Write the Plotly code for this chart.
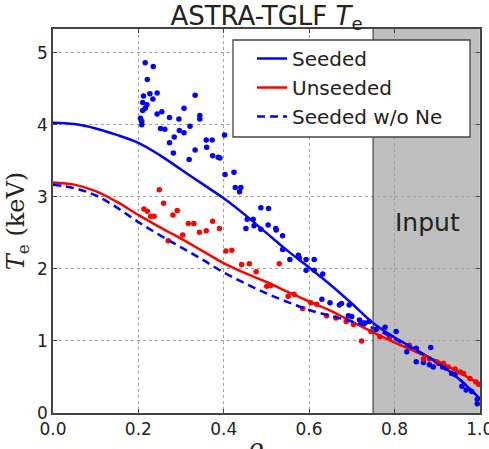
import plotly.graph_objects as go

# Model profiles
rho = [0.0, 0.05, 0.1, 0.15, 0.2, 0.25, 0.3, 0.35, 0.4, 0.45, 0.5, 0.55, 0.6, 0.65, 0.7, 0.75, 0.8, 0.85, 0.9, 0.95, 1.0]
te_seeded = [4.03, 4.01, 3.95, 3.86, 3.75, 3.58, 3.38, 3.18, 2.98, 2.75, 2.50, 2.25, 2.02, 1.78, 1.52, 1.25, 1.05, 0.88, 0.70, 0.48, 0.20]
te_unseeded = [3.20, 3.17, 3.08, 2.93, 2.75, 2.58, 2.42, 2.25, 2.08, 1.94, 1.82, 1.68, 1.55, 1.42, 1.27, 1.12, 0.98, 0.85, 0.72, 0.57, 0.40]
te_seeded_no_ne = [3.17, 3.12, 3.02, 2.85, 2.65, 2.47, 2.30, 2.13, 1.95, 1.80, 1.66, 1.54, 1.43, 1.35, 1.27, 1.18, 1.03, 0.87, 0.70, 0.48, 0.20]

# Measurements
rho_meas_seeded = [0.216, 0.235, 0.221, 0.212, 0.227, 0.244, 0.210, 0.234, 0.220, 0.216, 0.210, 0.205, 0.208, 0.208,
                   0.244, 0.255, 0.273, 0.295, 0.307, 0.333, 0.344, 0.344, 0.321, 0.252, 0.262, 0.296, 0.307, 0.284,
                   0.273, 0.282, 0.359, 0.373, 0.360, 0.402, 0.333, 0.374, 0.387, 0.319, 0.391, 0.403, 0.424, 0.427,
                   0.437, 0.440, 0.487, 0.505, 0.455, 0.469, 0.471, 0.452, 0.487, 0.504, 0.522, 0.523, 0.538, 0.538,
                   0.555, 0.575, 0.577, 0.593, 0.612, 0.593, 0.612, 0.632, 0.630, 0.649, 0.671, 0.676, 0.694, 0.692,
                   0.700, 0.718, 0.726, 0.731, 0.741, 0.757, 0.778, 0.804, 0.829, 0.851, 0.851, 0.885, 0.868, 0.882,
                   0.891, 0.903, 0.913, 0.921, 0.934, 0.942, 0.958, 0.968, 0.981, 0.994, 0.994]
te_meas_seeded = [4.86, 4.81, 4.63, 4.40, 4.43, 4.44, 4.31, 4.36, 4.28, 4.23, 4.20, 4.09, 4.05, 4.00,
                  4.15, 4.18, 4.10, 4.08, 4.23, 4.41, 4.13, 4.08, 3.98, 3.95, 3.94, 3.92, 3.89, 3.83,
                  3.75, 3.61, 3.79, 3.79, 3.69, 3.86, 3.65, 3.57, 3.55, 3.52, 3.54, 3.31, 3.34, 3.13,
                  3.07, 3.13, 2.85, 2.84, 2.69, 2.69, 2.60, 2.56, 2.55, 2.61, 2.56, 2.54, 2.46, 2.27,
                  2.13, 2.19, 2.15, 2.13, 2.13, 1.98, 1.98, 1.93, 1.58, 1.53, 1.50, 1.52, 1.50, 1.35,
                  1.34, 1.29, 1.25, 1.25, 1.27, 1.16, 1.19, 1.13, 0.85, 0.90, 0.71, 0.91, 0.70, 0.67,
                  0.64, 0.69, 0.64, 0.62, 0.55, 0.53, 0.37, 0.32, 0.30, 0.19, 0.13]
rho_meas_unseeded = [0.249, 0.259, 0.213, 0.221, 0.229, 0.237, 0.281, 0.291, 0.317, 0.330, 0.374, 0.343, 0.359,
                     0.390, 0.304, 0.270, 0.405, 0.419, 0.442, 0.460, 0.476, 0.530, 0.501, 0.510, 0.551, 0.565,
                     0.585, 0.604, 0.618, 0.641, 0.663, 0.687, 0.704, 0.723, 0.745, 0.766, 0.788, 0.835, 0.868,
                     0.882, 0.899, 0.915, 0.926, 0.942, 0.954, 0.962, 0.977, 0.991, 0.997]
te_meas_unseeded = [3.10, 2.91, 2.83, 2.80, 2.73, 2.73, 2.75, 2.81, 2.63, 2.63, 2.66, 2.51, 2.53,
                    2.56, 2.47, 2.39, 2.25, 2.26, 2.06, 2.07, 1.96, 2.07, 1.76, 1.77, 1.62, 1.65,
                    1.45, 1.53, 1.51, 1.35, 1.32, 1.27, 1.23, 1.00, 1.13, 1.06, 1.04, 0.94, 0.75,
                    0.75, 0.71, 0.69, 0.64, 0.61, 0.57, 0.55, 0.48, 0.43, 0.40]

x_ticks = [0.0, 0.2, 0.4, 0.6, 0.8, 1.0]
y_ticks = [0, 1, 2, 3, 4, 5]
input_start, input_end = 0.75, 1.0

BLUE = "#0000ff"
RED = "#ff0000"
FONT = "DejaVu Sans"

fig = go.Figure()
fig.add_trace(go.Scatter(x=rho_meas_seeded, y=te_meas_seeded, mode="markers",
                         marker=dict(color=BLUE, size=5.5), showlegend=False, cliponaxis=True))
fig.add_trace(go.Scatter(x=rho_meas_unseeded, y=te_meas_unseeded, mode="markers",
                         marker=dict(color=RED, size=5.5), showlegend=False, cliponaxis=True))
fig.add_trace(go.Scatter(x=rho, y=te_seeded, mode="lines", name="Seeded",
                         line=dict(color=BLUE, width=2.5, shape="spline")))
fig.add_trace(go.Scatter(x=rho, y=te_unseeded, mode="lines", name="Unseeded",
                         line=dict(color=RED, width=2.5, shape="spline")))
fig.add_trace(go.Scatter(x=rho, y=te_seeded_no_ne, mode="lines", name="Seeded w/o Ne",
                         line=dict(color=BLUE, width=2.5, dash="8px,5px", shape="spline")))

# Input region
fig.add_shape(type="rect", xref="x", yref="paper", x0=input_start, x1=input_end, y0=0, y1=1,
              fillcolor="#bfbfbf", line=dict(width=0), layer="below")
fig.add_shape(type="line", xref="x", yref="paper", x0=input_start, x1=input_start, y0=0, y1=1,
              line=dict(color="#444444", width=1.2), layer="above")
fig.add_annotation(x=0.878, y=2.64, xref="x", yref="y", text="Input", showarrow=False,
                   font=dict(family=FONT, size=25, color="#222222"))

# Legend box
fig.add_shape(type="rect", xref="paper", yref="paper",
              x0=(233 - 53) / 427, x1=(470 - 53) / 427,
              y0=(413 - 137) / 384, y1=(413 - 40) / 384,
              fillcolor="white", line=dict(color="#444444", width=1.3), layer="above")

# x-axis title (partly cut off at the bottom, as in the reference)
fig.add_annotation(x=0.505, y=(413 - 431) / 384, xref="paper", yref="paper", xanchor="center", yanchor="top",
                   text="<i>ρ</i><sub>tor</sub>", showarrow=False,
                   font=dict(family="DejaVu Serif", size=26, color="#222222"))

fig.update_layout(
    width=489, height=449,
    margin=dict(l=53, r=9, t=29, b=36),
    paper_bgcolor="white", plot_bgcolor="white",
    font=dict(family=FONT, size=17, color="#222222"),
    title=dict(text="ASTRA-TGLF <i>T</i><sub>e</sub>", x=0.545, xanchor="center", y=0.985, yanchor="top",
               font=dict(family=FONT, size=26, color="#222222")),
    legend=dict(x=(252 - 53) / 427, y=(413 - 39) / 384, xanchor="left", yanchor="top",
                bgcolor="rgba(0,0,0,0)", borderwidth=0,
                font=dict(family=FONT, size=20, color="#222222"), tracegroupgap=0, itemwidth=30),
    showlegend=True,
)
fig.update_xaxes(range=[0, 1.0005], tickvals=x_ticks, ticktext=[f"{v:.1f}" for v in x_ticks],
                 ticklabeloverflow="allow",
                 showgrid=True, gridcolor="#a0a0a0", griddash="dot", gridwidth=1,
                 showline=True, linecolor="#444444", linewidth=1.5, mirror="allticks",
                 ticks="inside", ticklen=4, tickcolor="#444444", zeroline=False,
                 automargin=False)
fig.update_yaxes(range=[0, 5.33], tickvals=y_ticks, ticktext=[str(v) for v in y_ticks],
                 showgrid=True, gridcolor="#a0a0a0", griddash="dot", gridwidth=1,
                 showline=True, linecolor="#444444", linewidth=1.5, mirror="allticks",
                 ticks="inside", ticklen=4, tickcolor="#444444", zeroline=False,
                 title=dict(text="<i>T</i><sub>e</sub> (keV)", standoff=6,
                            font=dict(family="DejaVu Serif", size=24)),
                 automargin=False)

fig.write_html("out.html")
